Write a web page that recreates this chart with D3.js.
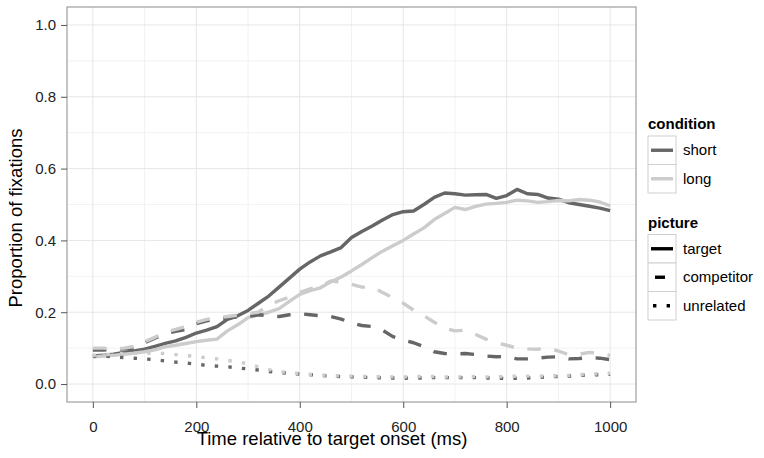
<!DOCTYPE html>
<html>
<head>
<meta charset="utf-8">
<script src="https://cdn.jsdelivr.net/npm/d3@7"></script>
<style>
  html, body { margin: 0; padding: 0; background: #fff; }
  svg { display: block; font-family: "Liberation Sans", Arial, Helvetica, sans-serif; }
</style>
</head>
<body>
<svg id="chart" width="764" height="458"></svg>
<script>
// ---- data ----
const times = [0,20,40,60,80,100,120,140,160,180,200,220,240,260,280,300,320,340,360,380,400,420,440,460,480,500,520,540,560,580,600,620,640,660,680,700,720,740,760,780,800,820,840,860,880,900,920,940,960,980,1000];

const shortTarget = [0.078,0.08,0.083,0.088,0.092,0.097,0.105,0.113,0.12,0.13,0.142,0.15,0.16,0.18,0.19,0.205,0.225,0.245,0.27,0.295,0.32,0.34,0.357,0.368,0.38,0.408,0.425,0.44,0.457,0.472,0.48,0.482,0.5,0.52,0.532,0.53,0.526,0.527,0.528,0.517,0.525,0.542,0.53,0.528,0.518,0.515,0.505,0.5,0.495,0.49,0.483];
const longTarget = [0.075,0.078,0.08,0.083,0.086,0.09,0.095,0.104,0.108,0.113,0.118,0.122,0.125,0.148,0.165,0.185,0.193,0.2,0.21,0.23,0.25,0.26,0.268,0.285,0.298,0.315,0.333,0.352,0.37,0.385,0.4,0.418,0.435,0.458,0.475,0.492,0.486,0.495,0.501,0.503,0.506,0.512,0.51,0.506,0.508,0.511,0.51,0.514,0.512,0.507,0.496];
const shortCompetitor = [0.095,0.095,0.096,0.098,0.1,0.115,0.128,0.14,0.147,0.152,0.168,0.176,0.18,0.184,0.187,0.188,0.193,0.19,0.188,0.193,0.196,0.193,0.19,0.188,0.181,0.17,0.163,0.16,0.15,0.132,0.122,0.115,0.104,0.09,0.085,0.084,0.085,0.082,0.078,0.076,0.077,0.07,0.07,0.072,0.075,0.076,0.07,0.071,0.074,0.072,0.068];
const longCompetitor = [0.1,0.1,0.098,0.1,0.105,0.118,0.13,0.145,0.152,0.16,0.172,0.18,0.185,0.188,0.192,0.196,0.2,0.22,0.232,0.242,0.255,0.265,0.272,0.287,0.284,0.278,0.27,0.27,0.255,0.24,0.225,0.206,0.19,0.172,0.155,0.148,0.15,0.138,0.125,0.115,0.108,0.1,0.098,0.097,0.1,0.092,0.082,0.083,0.088,0.085,0.08];
const shortUnrelated = [0.078,0.078,0.076,0.074,0.072,0.07,0.068,0.064,0.061,0.059,0.055,0.052,0.05,0.048,0.045,0.042,0.039,0.035,0.032,0.03,0.028,0.026,0.024,0.022,0.021,0.02,0.019,0.018,0.017,0.017,0.016,0.017,0.017,0.018,0.018,0.018,0.018,0.018,0.017,0.017,0.015,0.016,0.017,0.018,0.02,0.021,0.022,0.024,0.025,0.026,0.027];
const longUnrelated = [0.08,0.082,0.083,0.085,0.086,0.086,0.086,0.085,0.082,0.079,0.077,0.073,0.07,0.066,0.062,0.056,0.048,0.04,0.035,0.031,0.029,0.027,0.025,0.024,0.023,0.022,0.021,0.021,0.02,0.02,0.02,0.021,0.021,0.021,0.02,0.02,0.02,0.021,0.02,0.02,0.021,0.022,0.022,0.022,0.023,0.023,0.024,0.026,0.027,0.029,0.03];

const conditions = ["short", "long"];
const pictures = ["target", "competitor", "unrelated"];
const xMajorTicks = [0, 200, 400, 600, 800, 1000];
const xMinorTicks = [100, 300, 500, 700, 900];
const yMajorTicks = [0, 0.2, 0.4, 0.6, 0.8, 1.0];
const yMinorTicks = [0.1, 0.3, 0.5, 0.7, 0.9];

const series = [
  {condition: "short", picture: "target", values: shortTarget},
  {condition: "long", picture: "target", values: longTarget},
  {condition: "short", picture: "competitor", values: shortCompetitor},
  {condition: "long", picture: "competitor", values: longCompetitor},
  {condition: "short", picture: "unrelated", values: shortUnrelated},
  {condition: "long", picture: "unrelated", values: longUnrelated}
];

// ---- styles ----
const colorScale = d3.scaleOrdinal().domain(conditions).range(["#666666", "#cccccc"]);
const LW = 3.4;
const dashScale = d3.scaleOrdinal().domain(pictures)
  .range(["none", (4*LW) + "," + (4*LW), LW + "," + (3*LW)]);

// ---- layout ----
const svg = d3.select("#chart");
const x = d3.scaleLinear().domain([-50, 1050]).range([67, 636]);
const y = d3.scaleLinear().domain([-0.05, 1.05]).range([402, 7]);

// panel background + grid
const panel = svg.append("g");
panel.append("rect").attr("x", 67).attr("y", 7).attr("width", 569).attr("height", 395).attr("fill", "#fff");

panel.selectAll("line.xminor").data(xMinorTicks).enter().append("line")
  .attr("x1", d => x(d)).attr("x2", d => x(d)).attr("y1", 7).attr("y2", 402)
  .attr("stroke", "#f2f2f2").attr("stroke-width", 1);
panel.selectAll("line.yminor").data(yMinorTicks).enter().append("line")
  .attr("y1", d => y(d)).attr("y2", d => y(d)).attr("x1", 67).attr("x2", 636)
  .attr("stroke", "#f2f2f2").attr("stroke-width", 1);
panel.selectAll("line.xmajor").data(xMajorTicks).enter().append("line")
  .attr("x1", d => x(d)).attr("x2", d => x(d)).attr("y1", 7).attr("y2", 402)
  .attr("stroke", "#e6e6e6").attr("stroke-width", 1);
panel.selectAll("line.ymajor").data(yMajorTicks).enter().append("line")
  .attr("y1", d => y(d)).attr("y2", d => y(d)).attr("x1", 67).attr("x2", 636)
  .attr("stroke", "#e6e6e6").attr("stroke-width", 1);

// lines
const line = d3.line().x((d, i) => x(times[i])).y(d => y(d));
svg.append("g").selectAll("path").data(series).enter().append("path")
  .attr("d", d => line(d.values))
  .attr("fill", "none")
  .attr("stroke", d => colorScale(d.condition))
  .attr("stroke-width", LW)
  .attr("stroke-dasharray", d => dashScale(d.picture))
  .attr("stroke-linejoin", "round")
  .attr("stroke-linecap", "butt");

// panel border
svg.append("rect").attr("x", 67).attr("y", 7).attr("width", 569).attr("height", 395)
  .attr("fill", "none").attr("stroke", "#a6a6a6").attr("stroke-width", 1.3);

// axes
const xAxis = d3.axisBottom(x).tickValues(xMajorTicks).tickSize(6).tickPadding(13).tickFormat(d3.format("d"));
const gx = svg.append("g").attr("transform", "translate(0,402)").call(xAxis);
gx.select(".domain").remove();
gx.selectAll(".tick line").attr("stroke", "#555").attr("stroke-width", 1);
gx.selectAll(".tick text").attr("font-size", 15).attr("fill", "#222").attr("font-family", "Liberation Sans, Arial, sans-serif");

const yAxis = d3.axisLeft(y).tickValues(yMajorTicks).tickSize(6).tickPadding(5).tickFormat(d3.format(".1f"));
const gy = svg.append("g").attr("transform", "translate(67,0)").call(yAxis);
gy.select(".domain").remove();
gy.selectAll(".tick line").attr("stroke", "#555").attr("stroke-width", 1);
gy.selectAll(".tick text").attr("font-size", 15).attr("fill", "#222").attr("font-family", "Liberation Sans, Arial, sans-serif");

// axis titles
svg.append("text").attr("x", 332).attr("y", 445).attr("text-anchor", "middle")
  .attr("font-size", 18.5).attr("fill", "#000").text("Time relative to target onset (ms)");
svg.append("text").attr("transform", "translate(22,218) rotate(-90)").attr("text-anchor", "middle")
  .attr("font-size", 18.5).attr("fill", "#000").text("Proportion of fixations");

// legends
const keyX = 648, keyW = 28, keyH = 28.5;
function legend(title, titleY, items, top, styleFn) {
  svg.append("text").attr("x", 648).attr("y", titleY).attr("font-size", 15)
    .attr("font-weight", "bold").attr("fill", "#000").text(title);
  const g = svg.append("g");
  items.forEach((it, i) => {
    const y0 = top + i * keyH;
    g.append("rect").attr("x", keyX).attr("y", y0).attr("width", keyW).attr("height", keyH)
      .attr("fill", "#fff").attr("stroke", "#cfcfcf").attr("stroke-width", 1);
    const s = styleFn(it);
    g.append("line").attr("x1", s.x1).attr("x2", s.x2)
      .attr("y1", y0 + keyH / 2).attr("y2", y0 + keyH / 2)
      .attr("stroke", s.color).attr("stroke-width", LW)
      .attr("stroke-dasharray", s.dash).attr("stroke-linecap", "butt");
    g.append("text").attr("x", 683).attr("y", y0 + keyH / 2 + 5).attr("font-size", 15)
      .attr("fill", "#000").text(it);
  });
}
legend("condition", 129, conditions, 136, c => ({x1: keyX + 3, x2: keyX + keyW - 3, color: colorScale(c), dash: "none"}));
legend("picture", 228, pictures, 234.5, p => {
  if (p === "target") return {x1: keyX + 3, x2: keyX + keyW - 3, color: "#000", dash: "none"};
  if (p === "competitor") return {x1: keyX + 7, x2: keyX + 17, color: "#000", dash: "none"};
  return {x1: keyX + 5, x2: keyX + keyW - 3, color: "#000", dash: LW + "," + (3 * LW)};
});
</script>
</body>
</html>
